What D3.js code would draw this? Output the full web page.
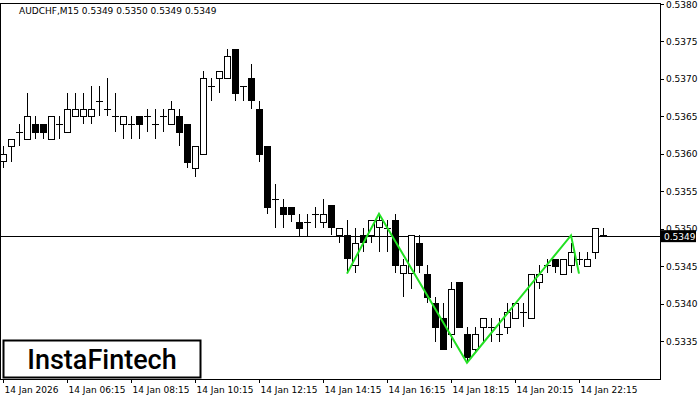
<!DOCTYPE html>
<html><head><meta charset="utf-8">
<script src="https://cdn.jsdelivr.net/npm/d3@7"></script>
<style>body{margin:0;background:#fff}svg{display:block}</style>
</head><body><svg id="chart" width="700" height="400"></svg>
<script>
// candle data (AUDCHF M15, 04:15 .. 23:00)
const opens = [.53591,.53611,.53629,.53620,.53640,.53640,.53620,.53640,.53629,.53651,.53651,.53651,.53671,.53660,.53651,.53640,
  .53640,.53651,.53651,.53640,.53651,.53640,.53651,.53640,.53581,.53600,.53691,.53701,.53701,.53740,.53691,.53701,
  .53660,.53611,.53540,.53529,.53529,.53509,.53509,.53520,.53509,.53531,.53491,.53491,.53451,.53491,.53491,.53501,
  .53501,.53511,.53440,.53440,.53481,.53440,.53401,.53381,.53360,.53429,.53360,.53340,.53369,.53369,.53360,.53369,
  .53381,.53389,.53381,.53429,.53451,.53460,.53440,.53451,.53460,.53451,.53469,.53491];
const closes = [.53600,.53620,.53629,.53651,.53629,.53629,.53651,.53640,.53660,.53660,.53660,.53660,.53671,.53660,.53651,.53651,
  .53640,.53640,.53651,.53640,.53651,.53660,.53629,.53589,.53611,.53701,.53691,.53711,.53731,.53681,.53691,.53671,
  .53600,.53529,.53540,.53520,.53520,.53501,.53509,.53520,.53520,.53501,.53501,.53460,.53481,.53481,.53511,.53511,
  .53501,.53451,.53451,.53491,.53451,.53409,.53369,.53340,.53420,.53369,.53329,.53360,.53381,.53369,.53360,.53389,
  .53401,.53389,.53440,.53440,.53451,.53451,.53460,.53469,.53460,.53460,.53501,.53491];
const highs = [.53611,.53620,.53640,.53681,.53651,.53640,.53651,.53651,.53681,.53681,.53681,.53691,.53691,.53701,.53681,.53651,
  .53651,.53651,.53660,.53660,.53660,.53671,.53660,.53640,.53611,.53711,.53701,.53711,.53740,.53740,.53691,.53720,
  .53671,.53611,.53560,.53540,.53529,.53520,.53520,.53529,.53540,.53531,.53501,.53511,.53501,.53501,.53511,.53520,
  .53511,.53520,.53460,.53491,.53491,.53451,.53409,.53401,.53429,.53429,.53369,.53369,.53381,.53381,.53381,.53401,
  .53401,.53401,.53440,.53451,.53460,.53460,.53460,.53481,.53469,.53469,.53501,.53501];
const lows = [.53581,.53589,.53611,.53620,.53620,.53620,.53620,.53620,.53629,.53651,.53640,.53640,.53651,.53651,.53629,.53620,
  .53620,.53620,.53629,.53620,.53629,.53640,.53611,.53581,.53569,.53600,.53671,.53681,.53701,.53671,.53671,.53660,
  .53589,.53519,.53501,.53501,.53509,.53489,.53489,.53501,.53501,.53491,.53481,.53441,.53441,.53469,.53481,.53469,
  .53469,.53441,.53409,.53420,.53441,.53401,.53349,.53340,.53340,.53369,.53321,.53335,.53349,.53349,.53349,.53360,
  .53381,.53369,.53381,.53420,.53441,.53441,.53440,.53441,.53451,.53451,.53460,.53491];
const priceTicks = [0.5335, 0.5340, 0.5345, 0.5350, 0.5355, 0.5360, 0.5365, 0.5370, 0.5375, 0.5380];
const timeLabels = ["14 Jan 2026","14 Jan 06:15","14 Jan 08:15","14 Jan 10:15","14 Jan 12:15","14 Jan 14:15",
  "14 Jan 16:15","14 Jan 18:15","14 Jan 20:15","14 Jan 22:15"];
// double top pattern: [candle index, price]
const patternIdx = [43, 47, 58, 71, 72];
const patternPrice = [0.53440, 0.53520, 0.53321, 0.53491, 0.53440];
const lastPrice = 0.5349;

const svg = d3.select("#chart");
const plotR = 660, plotT = 4, plotB = 379;
const x = d3.scaleLinear().domain([0, 75]).range([3, 603]);
const y = d3.scaleLinear().domain([0.5335, 0.5380]).range([341, 4]);

// frame
svg.append("rect").attr("x", 0.5).attr("y", plotT - 0.5).attr("width", plotR).attr("height", plotB - plotT + 1)
  .attr("fill", "none").attr("stroke", "#000");

// price axis
const ya = svg.append("g").attr("font-family", "DejaVu Sans").attr("font-size", 9);
priceTicks.forEach(p => {
  ya.append("line").attr("x1", plotR).attr("x2", plotR + 4).attr("y1", Math.round(y(p)) + 0.5).attr("y2", Math.round(y(p)) + 0.5).attr("stroke", "#000");
  ya.append("text").attr("x", plotR + 6).attr("y", y(p) + 3.5).text(p.toFixed(4));
});

// time axis
const xa = svg.append("g").attr("font-family", "DejaVu Sans").attr("font-size", 9);
timeLabels.forEach((t, k) => {
  const xx = Math.round(x(k * 8)) + 0.5;
  xa.append("line").attr("x1", xx).attr("x2", xx).attr("y1", plotB).attr("y2", plotB + 4).attr("stroke", "#000");
  xa.append("text").attr("x", xx + 1).attr("y", plotB + 14).text(t);
});

// last price line
svg.append("line").attr("x1", 0).attr("x2", plotR).attr("y1", Math.round(y(lastPrice)) + 0.5).attr("y2", Math.round(y(lastPrice)) + 0.5)
  .attr("stroke", "#000");

// candles
const candles = svg.append("g").selectAll("g").data(opens.map((o, i) => ({i, o, c: closes[i], h: highs[i], l: lows[i]})))
  .join("g");
candles.append("line")
  .attr("x1", d => Math.round(x(d.i)) + 0.5).attr("x2", d => Math.round(x(d.i)) + 0.5)
  .attr("y1", d => Math.round(y(d.h))).attr("y2", d => Math.round(y(d.l)))
  .attr("stroke", "#000");
candles.append("rect")
  .attr("x", d => Math.round(x(d.i)) - 2.5)
  .attr("y", d => Math.round(y(Math.max(d.o, d.c))) + 0.5)
  .attr("width", 6)
  .attr("height", d => Math.max(0.01, Math.round(Math.abs(y(d.o) - y(d.c)))))
  .attr("fill", d => d.c < d.o ? "#000" : "#fff")
  .attr("stroke", "#000");

// pattern
svg.append("path")
  .datum(patternIdx.map((k, j) => [x(k), y(patternPrice[j])]))
  .attr("d", d3.line())
  .attr("fill", "none").attr("stroke", "#22e022").attr("stroke-width", 2);

// price label for last value
const ly = y(lastPrice);
svg.append("rect").attr("x", plotR + 1).attr("y", ly - 6).attr("width", 35).attr("height", 12).attr("fill", "#000");
svg.append("text").attr("x", plotR + 4).attr("y", ly + 3.5).attr("fill", "#fff")
  .attr("font-family", "DejaVu Sans").attr("font-size", 9).text(lastPrice.toFixed(4));

// title
svg.append("text").attr("x", 19).attr("y", 14).attr("font-family", "DejaVu Sans").attr("font-size", 9)
  .text("AUDCHF,M15  0.5349 0.5350 0.5349 0.5349");

// logo
svg.append("rect").attr("x", 3.5).attr("y", 340.5).attr("width", 197).attr("height", 37)
  .attr("fill", "#fff").attr("stroke", "#000").attr("stroke-width", 2);
svg.append("text").attr("x", 102).attr("y", 369).attr("text-anchor", "middle")
  .attr("font-family", "Roboto").attr("font-weight", 500).attr("font-size", 27).text("InstaFintech");
</script></body></html>
